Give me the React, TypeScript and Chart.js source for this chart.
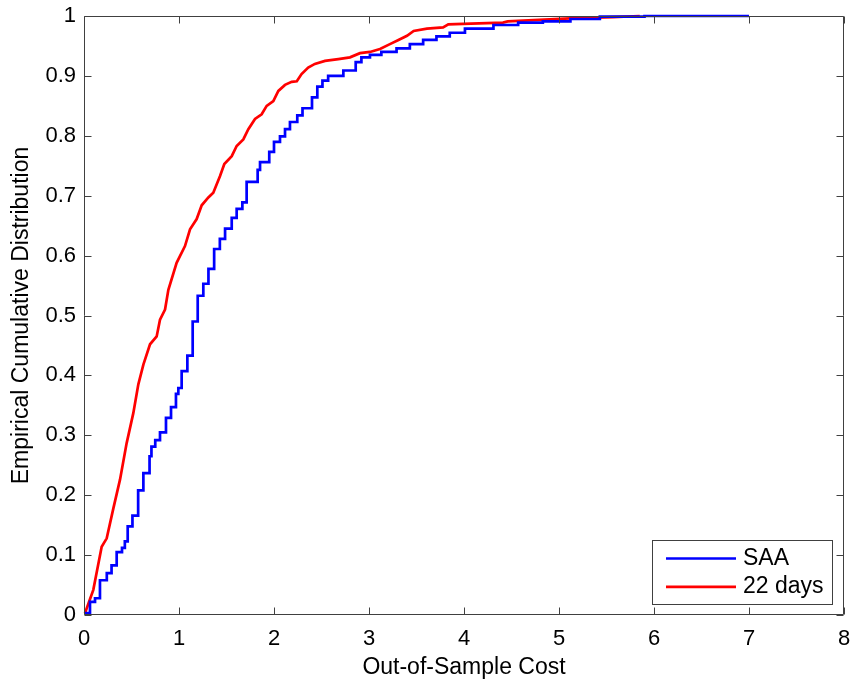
import React, { useEffect, useRef } from "react";
import { Chart, registerables } from "chart.js";

Chart.register(...registerables);

// ---- data ----
const SAA_COST = [
  0.01, 0.063, 0.116, 0.168, 0.24, 0.29, 0.344, 0.4, 0.43, 0.46, 0.51, 0.57, 0.625, 0.69, 0.71, 0.75,
  0.8, 0.863, 0.916, 0.968, 0.993, 1.028, 1.088, 1.144, 1.197, 1.256, 1.31, 1.37, 1.43, 1.485, 1.555,
  1.607, 1.667, 1.712, 1.828, 1.853, 1.95, 2.0, 2.063, 2.116, 2.168, 2.245, 2.3, 2.4, 2.456, 2.51, 2.57,
  2.73, 2.86, 2.92, 3.01, 3.13, 3.29, 3.43, 3.57, 3.71, 3.85, 4.01, 4.31, 4.57, 4.83, 5.12, 5.43, 5.9, 7.0,
];
const SAA_CDF = [
  0.003, 0.022, 0.028, 0.058, 0.07, 0.083, 0.105, 0.112, 0.123, 0.148, 0.166, 0.208, 0.237, 0.265, 0.281, 0.292,
  0.305, 0.329, 0.347, 0.369, 0.379, 0.407, 0.433, 0.49, 0.533, 0.553, 0.578, 0.611, 0.628, 0.645, 0.663,
  0.678, 0.689, 0.723, 0.743, 0.756, 0.773, 0.79, 0.799, 0.811, 0.823, 0.834, 0.846, 0.864, 0.882, 0.892, 0.9,
  0.909, 0.923, 0.931, 0.935, 0.94, 0.946, 0.953, 0.96, 0.966, 0.972, 0.979, 0.985, 0.989, 0.991, 0.995, 0.999, 1.0, 1.0,
];
const DAYS22_COST = [
  0.01, 0.098, 0.186, 0.239, 0.309, 0.379, 0.449, 0.519, 0.572, 0.625, 0.695, 0.765, 0.8, 0.853, 0.888,
  0.975, 1.01, 1.063, 1.116, 1.186, 1.239, 1.309, 1.361, 1.432, 1.477, 1.555, 1.607, 1.677, 1.73, 1.8,
  1.87, 1.923, 1.993, 2.046, 2.116, 2.186, 2.24, 2.29, 2.36, 2.43, 2.537, 2.677, 2.8, 2.905, 3.01, 3.116,
  3.22, 3.31, 3.4, 3.47, 3.61, 3.78, 3.835, 3.99, 4.41, 4.46, 5.12, 5.57, 5.85,
];
const DAYS22_CDF = [
  0.003, 0.042, 0.114, 0.128, 0.178, 0.226, 0.287, 0.337, 0.385, 0.418, 0.452, 0.465, 0.493, 0.51, 0.543,
  0.588, 0.599, 0.616, 0.644, 0.661, 0.684, 0.697, 0.705, 0.733, 0.753, 0.766, 0.783, 0.794, 0.811, 0.828,
  0.836, 0.85, 0.858, 0.875, 0.885, 0.89, 0.891, 0.903, 0.914, 0.92, 0.925, 0.928, 0.931, 0.938, 0.94, 0.945,
  0.953, 0.96, 0.967, 0.975, 0.979, 0.981, 0.986, 0.987, 0.989, 0.991, 0.996, 0.998, 1.0,
];
const SERIES_LABELS = ["SAA", "22 days"];
const X_TICKS = [0, 1, 2, 3, 4, 5, 6, 7, 8];
const Y_TICKS = [0, 0.1, 0.2, 0.3, 0.4, 0.5, 0.6, 0.7, 0.8, 0.9, 1];
const X_TITLE = "Out-of-Sample Cost";
const Y_TITLE = "Empirical Cumulative Distribution";

const FONT = "'Liberation Sans', Arial, sans-serif";
const AXIS_COLOR = "#404040";

const framePlugin = {
  id: "frame",
  afterDatasetsDraw(chart: any) {
    const { ctx, chartArea: a, scales } = chart;
    const xs = scales.x;
    const ys = scales.y;
    const L = Math.round(a.left) + 0.5;
    const R = Math.round(a.right) - 0.5;
    const T = Math.round(a.top) + 0.5;
    const B = Math.round(a.bottom) - 0.5;
    const tl = 7;
    ctx.save();
    ctx.strokeStyle = AXIS_COLOR;
    ctx.lineWidth = 1;
    ctx.beginPath();
    ctx.rect(L, T, R - L, B - T);
    X_TICKS.forEach((v) => {
      const p = Math.round(xs.getPixelForValue(v)) + 0.5;
      ctx.moveTo(p, B);
      ctx.lineTo(p, B - tl);
      ctx.moveTo(p, T);
      ctx.lineTo(p, T + tl);
    });
    Y_TICKS.forEach((v) => {
      const p = Math.round(ys.getPixelForValue(v)) + 0.5;
      ctx.moveTo(L, p);
      ctx.lineTo(L + tl, p);
      ctx.moveTo(R, p);
      ctx.lineTo(R - tl, p);
    });
    ctx.stroke();
    ctx.restore();
  },
};

const legendPlugin = {
  id: "boxLegend",
  afterDraw(chart: any) {
    const { ctx, chartArea: a } = chart;
    const w = 180;
    const h = 64;
    const x0 = Math.round(a.right) - 191.5;
    const y0 = Math.round(a.bottom) - 74.5;
    ctx.save();
    ctx.fillStyle = "#ffffff";
    ctx.fillRect(x0, y0, w, h);
    ctx.strokeStyle = AXIS_COLOR;
    ctx.lineWidth = 1;
    ctx.strokeRect(x0, y0, w, h);
    ctx.font = `23px ${FONT}`;
    ctx.textBaseline = "middle";
    ctx.textAlign = "left";
    chart.data.datasets.forEach((ds: any, i: number) => {
      const yy = y0 + 18 + i * 28.4;
      ctx.strokeStyle = ds.borderColor;
      ctx.lineWidth = 2.7;
      ctx.beginPath();
      ctx.moveTo(x0 + 13.5, yy);
      ctx.lineTo(x0 + 83.5, yy);
      ctx.stroke();
      ctx.fillStyle = "#000000";
      ctx.fillText(ds.label, x0 + 90.5, yy);
    });
    ctx.restore();
  },
};

export default function App() {
  const ref = useRef<HTMLCanvasElement | null>(null);

  useEffect(() => {
    if (!ref.current) return;
    const saa = SAA_COST.map((x, i) => ({ x, y: SAA_CDF[i] }));
    const d22 = DAYS22_COST.map((x, i) => ({ x, y: DAYS22_CDF[i] }));
    const chart = new Chart(ref.current, {
      type: "line",
      data: {
        datasets: [
          {
            label: SERIES_LABELS[0],
            data: saa,
            borderColor: "#0000ff",
            borderWidth: 2.7,
            pointRadius: 0,
            stepped: true,
            fill: false,
            clip: 4,
          },
          {
            label: SERIES_LABELS[1],
            data: d22,
            borderColor: "#ff0000",
            borderWidth: 2.7,
            pointRadius: 0,
            tension: 0,
            fill: false,
            clip: 4,
          },
        ],
      },
      options: {
        animation: false,
        responsive: false,
        maintainAspectRatio: false,
        parsing: false,
        layout: { padding: { top: 16, right: 6, left: 0, bottom: 0 } },
        plugins: {
          legend: { display: false },
          tooltip: { enabled: false },
        },
        scales: {
          x: {
            type: "linear",
            min: 0,
            max: 8,
            grid: { display: false, drawTicks: false },
            border: { display: false },
            afterBuildTicks: (s: any) => {
              s.ticks = X_TICKS.map((v) => ({ value: v }));
            },
            afterFit: (s: any) => {
              s.height = 64;
              s.paddingLeft = 0;
              s.paddingRight = 0;
            },
            ticks: {
              color: "#000000",
              padding: 11,
              font: { family: FONT, size: 22, lineHeight: 1.2 },
              maxRotation: 0,
              autoSkip: false,
              callback: (v: any) => String(v),
            },
            title: {
              display: true,
              text: X_TITLE,
              color: "#000000",
              font: { family: FONT, size: 23, lineHeight: 1 },
              padding: { top: 0, bottom: 0 },
            },
          },
          y: {
            type: "linear",
            min: 0,
            max: 1,
            grid: { display: false, drawTicks: false },
            border: { display: false },
            afterBuildTicks: (s: any) => {
              s.ticks = Y_TICKS.map((v) => ({ value: v }));
            },
            afterFit: (s: any) => {
              s.width = 84;
              s.paddingTop = 0;
              s.paddingBottom = 0;
            },
            ticks: {
              color: "#000000",
              padding: 8,
              font: { family: FONT, size: 22, lineHeight: 1.2 },
              autoSkip: false,
              callback: (v: any) => String(Math.round(v * 10) / 10),
            },
            title: {
              display: true,
              text: Y_TITLE,
              color: "#000000",
              font: { family: FONT, size: 23, lineHeight: 1 },
              padding: { top: 10, bottom: 0 },
            },
          },
        },
      },
      plugins: [framePlugin, legendPlugin],
    } as any);
    return () => chart.destroy();
  }, []);

  return (
    <div style={{ position: "absolute", left: 0, top: 0, width: 850, height: 679, background: "#ffffff" }}>
      <canvas ref={ref} width={850} height={679} style={{ display: "block", width: 850, height: 679 }} />
    </div>
  );
}
